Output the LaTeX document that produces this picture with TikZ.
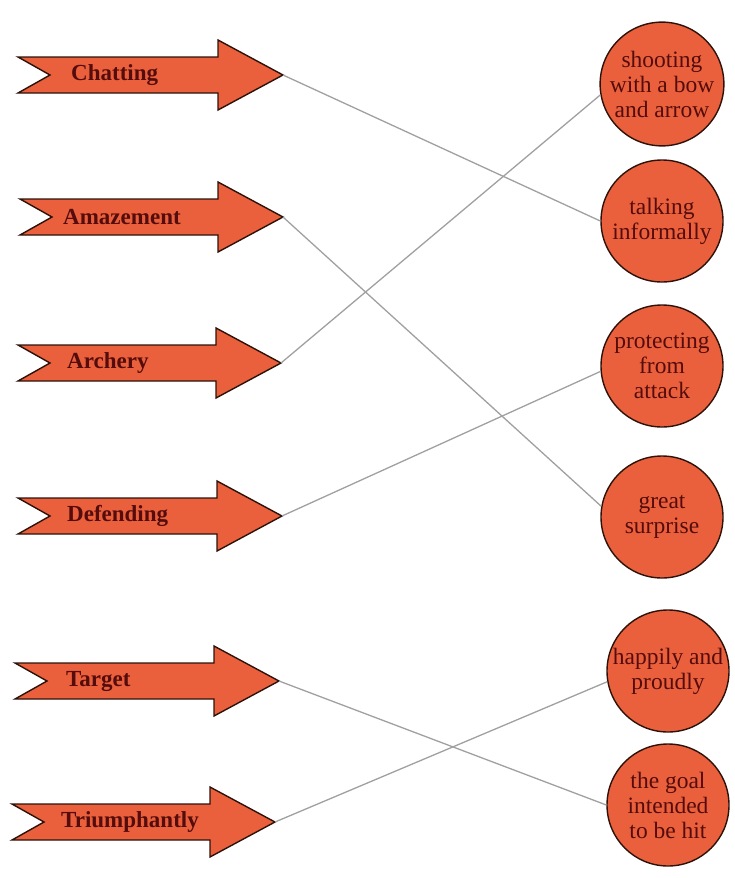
\documentclass[tikz,border=0pt]{standalone}
\usepackage{fontspec}
\setmainfont{Liberation Serif}
\usepackage{tikz}

\definecolor{arrowred}{RGB}{234,96,60}
\definecolor{edgebrown}{RGB}{45,18,10}
\definecolor{wordred}{RGB}{84,12,12}
\definecolor{linkgray}{RGB}{160,160,160}

\begin{document}
\begin{tikzpicture}[x=1pt, y=-1pt,
  arrowshape/.style={fill=arrowred, draw=edgebrown, line width=1.4pt, line join=miter},
  word/.style={anchor=west, inner sep=0pt, text=wordred, font=\fontsize{23}{25}\selectfont\bfseries},
  ball/.style={circle, fill=arrowred, draw=edgebrown, line width=1.4pt, minimum size=122pt, inner sep=0pt,
    align=center, text=wordred, font=\fontsize{23.5}{25}\selectfont},
  link/.style={draw=linkgray, line width=1.3pt}]
\useasboundingbox (0,0) rectangle (734,878);

% left column: the words
\draw [arrowshape] (18,57) -- (218,57) -- (218,40) -- (283,75) coordinate (chatting) -- (218,110) -- (218,93) -- (18,93) -- (50,75) -- cycle;
\node [word] (chattingword) at (71,75) {Chatting};
\draw [arrowshape] (20,199) -- (218,199) -- (218,182) -- (283,217) coordinate (amazement) -- (218,252) -- (218,235) -- (20,235) -- (52,217) -- cycle;
\node [word] (amazementword) at (63,217) {Amazement};
\draw [arrowshape] (18,345) -- (216,345) -- (216,328) -- (281,363) coordinate (archery) -- (216,398) -- (216,381) -- (18,381) -- (50,363) -- cycle;
\node [word] (archeryword) at (67,363) {Archery};
\draw [arrowshape] (18,498) -- (217,498) -- (217,481) -- (282,516) coordinate (defending) -- (217,551) -- (217,534) -- (18,534) -- (50,516) -- cycle;
\node [word] (defendingword) at (67,516) {Defending};
\draw [arrowshape] (15,663) -- (214,663) -- (214,646) -- (279,681) coordinate (target) -- (214,716) -- (214,699) -- (15,699) -- (47,681) -- cycle;
\node [word] (targetword) at (66,681) {Target};
\draw [arrowshape] (12,804) -- (210,804) -- (210,787) -- (275,822) coordinate (triumphantly) -- (210,857) -- (210,840) -- (12,840) -- (44,822) -- cycle;
\node [word] (triumphantlyword) at (61,822) {Triumphantly};

% right column: the meanings
\node [ball] (shooting) at (662,84) {shooting\\with a bow\\and arrow};
\node [ball] (talking) at (662,221) {talking\\informally};
\node [ball] (protecting) at (662,366) {protecting\\from\\attack};
\node [ball] (surprise) at (662,517) {great\\surprise};
\node [ball] (happily) at (668,671) {happily and\\proudly};
\node [ball] (goal) at (668,805) {the goal\\intended\\to be hit};

% matching lines
\draw [link] (chatting) -- (talking.west);
\draw [link] (amazement) -- (surprise.170);
\draw [link] (archery) -- (shooting.190);
\draw [link] (defending) -- (protecting.185);
\draw [link] (target) -- (goal.west);
\draw [link] (triumphantly) -- (happily.190);
\end{tikzpicture}
\end{document}
